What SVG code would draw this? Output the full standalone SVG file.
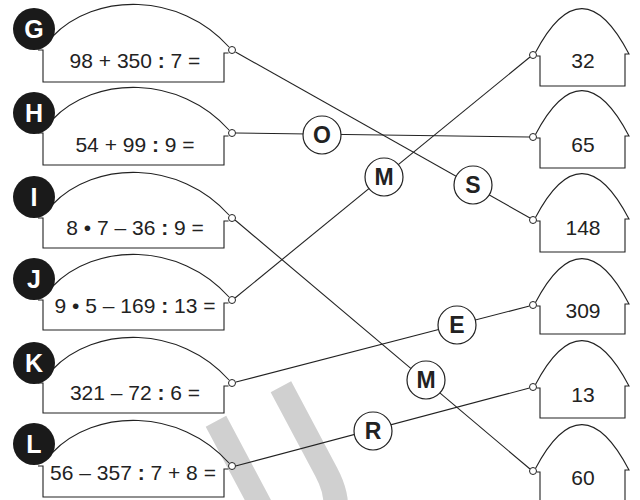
<svg xmlns="http://www.w3.org/2000/svg" width="640" height="500" viewBox="0 0 640 500">
<style>
.ln{stroke:#222;stroke-width:1.1;fill:none}
.hs{stroke:#222;stroke-width:1.1;fill:none}
.sc{fill:#fff;stroke:#222;stroke-width:1}
.lc{fill:#fff;stroke:#222;stroke-width:1.2}
.bc{fill:#1a1a1a}
.eq{font-family:"Liberation Sans",Arial,sans-serif;font-size:21px;fill:#222;text-anchor:middle}
.bl{font-family:"Liberation Sans",Arial,sans-serif;font-weight:bold;font-size:25px;fill:#fff;text-anchor:middle}
.ll{font-family:"Liberation Sans",Arial,sans-serif;font-weight:bold;font-size:23px;fill:#222;text-anchor:middle}
.b{font-weight:bold}
.wm{font-family:"Liberation Sans",Arial,sans-serif;font-weight:bold;font-size:230px;fill:#d0d0d0}
</style>
<text class="wm" transform="translate(271.5,571) rotate(-28) scale(0.7,1)">U</text>
<g id="connectors">
<line class="ln" x1="235.5" y1="52" x2="530" y2="218"/>
<line class="ln" x1="235.5" y1="133" x2="529.5" y2="137"/>
<line class="ln" x1="235" y1="220" x2="530" y2="469"/>
<line class="ln" x1="235" y1="298" x2="530" y2="57"/>
<line class="ln" x1="236" y1="382" x2="529.5" y2="306"/>
<line class="ln" x1="235.5" y1="466" x2="529.5" y2="388"/>
<g id="lbl-O"><circle class="lc" cx="322" cy="135" r="19"/><text class="ll" x="322" y="143">O</text></g>
<g id="lbl-M1"><circle class="lc" cx="384" cy="177" r="19"/><text class="ll" x="384" y="185">M</text></g>
<g id="lbl-S"><circle class="lc" cx="473" cy="185" r="19"/><text class="ll" x="473" y="193">S</text></g>
<g id="lbl-E"><circle class="lc" cx="457" cy="325" r="19"/><text class="ll" x="457" y="333">E</text></g>
<g id="lbl-M2"><circle class="lc" cx="426" cy="380" r="19"/><text class="ll" x="426" y="388">M</text></g>
<g id="lbl-R"><circle class="lc" cx="373" cy="431" r="19"/><text class="ll" x="373" y="439">R</text></g>
</g>
<g id="G">
<path class="ln" d="M52,37 C95,-8 180,-8 229,47"/>
<path class="ln" d="M38,50 H43 V82 H224 V53 H228.5"/>
<circle class="sc" cx="232" cy="50" r="3.5"/>
<circle class="bc" cx="34" cy="29" r="21"/>
<text class="bl" x="34" y="38">G</text>
<text class="eq" x="135" y="68">98 + 350 <tspan class="b">:</tspan> 7 =</text>
</g>
<g id="H">
<path class="ln" d="M52,120 C95,75 180,75 229,130"/>
<path class="ln" d="M38,133 H43 V165 H224 V136 H228.5"/>
<circle class="sc" cx="232" cy="133" r="3.5"/>
<circle class="bc" cx="34" cy="113" r="21"/>
<text class="bl" x="34" y="122">H</text>
<text class="eq" x="135" y="152">54 + 99 <tspan class="b">:</tspan> 9 =</text>
</g>
<g id="I">
<path class="ln" d="M52,205 C95,160 180,160 229,215"/>
<path class="ln" d="M38,218 H43 V248 H224 V221 H228.5"/>
<circle class="sc" cx="232" cy="218" r="3.5"/>
<circle class="bc" cx="34" cy="197" r="21"/>
<text class="bl" x="34" y="206">I</text>
<text class="eq" x="135" y="235">8 • 7 – 36 <tspan class="b">:</tspan> 9 =</text>
</g>
<g id="J">
<path class="ln" d="M52,287 C95,242 180,242 229,297"/>
<path class="ln" d="M38,300 H43 V330 H224 V303 H228.5"/>
<circle class="sc" cx="232" cy="300" r="3.5"/>
<circle class="bc" cx="34" cy="279" r="21"/>
<text class="bl" x="34" y="288">J</text>
<text class="eq" x="135" y="313">9 • 5 – 169 <tspan class="b">:</tspan> 13 =</text>
</g>
<g id="K">
<path class="ln" d="M52,370 C95,325 180,325 229,380"/>
<path class="ln" d="M38,383 H43 V413 H224 V386 H228.5"/>
<circle class="sc" cx="232" cy="383" r="3.5"/>
<circle class="bc" cx="34" cy="363" r="21"/>
<text class="bl" x="34" y="372">K</text>
<text class="eq" x="135" y="400">321 – 72 <tspan class="b">:</tspan> 6 =</text>
</g>
<g id="L">
<path class="ln" d="M52,453 C95,408 180,408 229,463"/>
<path class="ln" d="M38,466 H43 V497 H224 V469 H228.5"/>
<circle class="sc" cx="232" cy="466" r="3.5"/>
<circle class="bc" cx="34" cy="444" r="21"/>
<text class="bl" x="34" y="453">L</text>
<text class="eq" x="133" y="480">56 – 357 <tspan class="b">:</tspan> 7 + 8 =</text>
</g>
<g id="h32">
<path class="hs" d="M536.5,56 H540 V86 H625 V54 H629 Q582,-36 535.5,52.5"/>
<circle class="sc" cx="533" cy="55" r="3.5"/>
<text class="eq" x="583" y="68">32</text>
</g>
<g id="h65">
<path class="hs" d="M536.5,138 H540 V168 H625 V136 H629 Q582,46 535.5,134.5"/>
<circle class="sc" cx="533" cy="137" r="3.5"/>
<text class="eq" x="583" y="152">65</text>
</g>
<g id="h148">
<path class="hs" d="M536.5,221 H540 V252 H625 V219 H629 Q582,129 535.5,217.5"/>
<circle class="sc" cx="533" cy="220" r="3.5"/>
<text class="eq" x="583" y="235">148</text>
</g>
<g id="h309">
<path class="hs" d="M536.5,306 H540 V334 H625 V304 H629 Q582,214 535.5,302.5"/>
<circle class="sc" cx="533" cy="305" r="3.5"/>
<text class="eq" x="583" y="318">309</text>
</g>
<g id="h13">
<path class="hs" d="M536.5,388 H540 V418 H625 V386 H629 Q582,296 535.5,384.5"/>
<circle class="sc" cx="533" cy="387" r="3.5"/>
<text class="eq" x="583" y="402">13</text>
</g>
<g id="h60">
<path class="hs" d="M536.5,472 H540 V505 H625 V470 H629 Q582,380 535.5,468.5"/>
<circle class="sc" cx="533" cy="471" r="3.5"/>
<text class="eq" x="583" y="485">60</text>
</g>
</svg>
